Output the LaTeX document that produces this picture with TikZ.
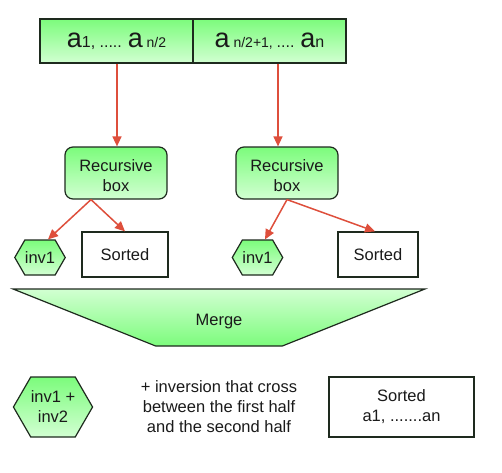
\documentclass[tikz,border=0pt]{standalone}
\usepackage{fontspec}
\setmainfont{Liberation Sans}
\usetikzlibrary{shapes.geometric,shapes.symbols,arrows.meta}
\definecolor{gbright}{HTML}{7CFC7C}
\definecolor{glight}{HTML}{D2FFD2}
\definecolor{edge}{HTML}{1E2A1E}
\definecolor{arrowred}{HTML}{DE4F3C}
\definecolor{txt}{HTML}{1A1A1A}
\newcommand{\bigA}{{\fontsize{27}{27}\selectfont a}}
\newcommand{\smallT}[1]{{\fontsize{16}{16}\selectfont #1}}
\newcommand{\tinyT}[1]{{\fontsize{14}{14}\selectfont #1}}
\begin{document}
\begin{tikzpicture}[x=1pt,y=1pt,
  every node/.style={text=txt,font=\fontsize{16.5}{20}\selectfont},
  gbox/.style={draw=edge,line width=1.2pt,top color=gbright,bottom color=glight,inner sep=0pt},
  wbox/.style={draw=edge,line width=1.2pt,fill=white,inner sep=0pt,align=center},
  hexa/.style={signal,signal to=east and west,signal pointer angle=120,draw=edge,line width=1.2pt,top color=gbright,bottom color=glight,inner sep=0pt,align=center},
  arr/.style={draw=arrowred,line width=1.5pt,-{Triangle[length=10pt,width=9pt]},shorten >=0pt}]
\useasboundingbox (0,0) rectangle (502,472);
% top bar
\node[gbox,minimum width=153,minimum height=44] (topL) at (116.5,431) {\bigA\smallT{1, ..... }\bigA\tinyT{ n/2}};
\node[gbox,minimum width=153,minimum height=44] (topR) at (269.5,431) {\bigA\tinyT{ n/2+1, }\smallT{.... }\bigA\smallT{n}};
% recursive boxes
\node[gbox,rounded corners=8pt,minimum width=102,minimum height=52,align=center] (recL) at (116,299) {\rule{0pt}{18pt}Recursive\\box};
\node[gbox,rounded corners=8pt,minimum width=102,minimum height=52,align=center] (recR) at (287,299) {\rule{0pt}{18pt}Recursive\\box};
% leaves
\node[hexa,minimum width=44,minimum height=35] (invL) at (40,214.5) {inv1};
\node[wbox,minimum width=86,minimum height=45] (sortL) at (125,217.5) {Sorted};
\node[hexa,minimum width=44,minimum height=35] (invR) at (257.5,214.5) {inv1};
\node[wbox,minimum width=80,minimum height=45] (sortR) at (378,217.5) {Sorted};
% merge
\node[trapezium,trapezium stretches=true,trapezium left angle=24,trapezium right angle=24,shape border rotate=180,minimum width=412,minimum height=57,draw=edge,line width=1.2pt,top color=glight,bottom color=gbright,inner sep=0pt] (merge) at (219,154.5) {\rule{0pt}{20pt}Merge};
% bottom row
\node[hexa,minimum width=70,minimum height=60] (invB) at (53,65) {inv1 +\\inv2};
\node[align=center] (cross) at (219,65) {+ inversion that cross\\between the first half\\and the second half};
\node[wbox,minimum width=145,minimum height=60] (sortB) at (401.5,65) {Sorted\\a1, .......an};
% arrows
\draw[arr] ([xshift=0.5]topL.south) -- ([xshift=0.5]topL.south |- recL.north);
\draw[arr] ([xshift=8.5]topR.south) -- ([xshift=8.5]topR.south |- recR.north);
\coordinate (sL) at ([xshift=-25]recL.south);
\coordinate (sR) at ([xshift=0]recR.south);
\draw[arr] (sL) -- ([xshift=8]invL.north);
\draw[arr] (sL) -- (sortL.north);
\draw[arr] (sR) -- ([xshift=7.5]invR.north);
\draw[arr] (sR) -- ([xshift=-3]sortR.north);
\end{tikzpicture}
\end{document}
